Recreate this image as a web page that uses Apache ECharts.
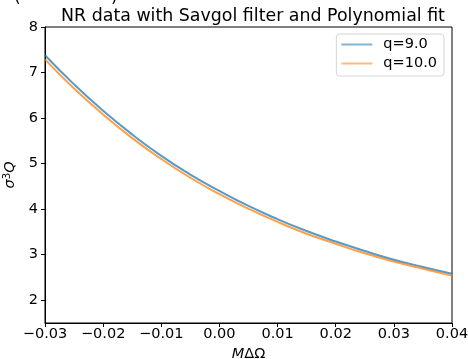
<!DOCTYPE html>
<html>
<head>
<meta charset="utf-8">
<script src="https://cdn.jsdelivr.net/npm/echarts@6/dist/echarts.min.js"></script>
<style>
  html, body { margin: 0; padding: 0; background: #fff; }
  #chart { width: 468px; height: 359px; }
</style>
</head>
<body>
<div id="chart"></div>
<script>
// Frequency offset M·ΔΩ sampled along the fitted curves
const xValues = [-0.030, -0.025, -0.020, -0.015, -0.010, -0.005, 0.000,
                 0.005, 0.010, 0.015, 0.020, 0.025, 0.030, 0.035, 0.040];
// σ³Q after Savgol smoothing + polynomial fit, mass ratio q = 9.0
const q9Values = [7.38, 6.74, 6.16, 5.64, 5.17, 4.76, 4.40,
                  4.07, 3.78, 3.52, 3.29, 3.08, 2.89, 2.73, 2.58];
// same for q = 10.0
const q10Values = [7.29, 6.65, 6.08, 5.56, 5.10, 4.69, 4.33,
                   4.01, 3.72, 3.46, 3.24, 3.03, 2.85, 2.69, 2.54];
const seriesNames = ['q=9.0', 'q=10.0'];
const yTicks = [2, 3, 4, 5, 6, 7, 8];

const FONT = 'DejaVu Sans';
const FS = 14.5;
const pair = (xs, ys) => xs.map((x, i) => [x, ys[i]]);
const fmtX = v => {
  const s = Math.abs(v).toFixed(2);
  return (v < -1e-9 ? '\u2212' : '') + s;
};

const chart = echarts.init(document.getElementById('chart'), null, { renderer: 'canvas' });
chart.setOption({
  animation: false,
  backgroundColor: '#fff',
  textStyle: { fontFamily: FONT },
  title: {
    text: 'NR data with Savgol filter and Polynomial fit',
    left: 248, top: 3, textAlign: 'center',
    textStyle: { fontFamily: FONT, fontSize: 17.4, fontWeight: 'normal', color: '#000' }
  },
  // lower edge of the bracketed heading above the panel
  graphic: [
    { type: 'text', left: 14, top: -11, style: { text: '(', font: '17px "DejaVu Sans"', fill: '#000' } },
    { type: 'text', left: 111, top: -11, style: { text: ')', font: '17px "DejaVu Sans"', fill: '#000' } }
  ],
  grid: {
    left: 45, right: 16, top: 27, bottom: 36,
    outerBoundsMode: 'none',
    containLabel: false,
    show: true, borderColor: '#000', borderWidth: 1, backgroundColor: 'transparent'
  },
  legend: {
    data: seriesNames,
    orient: 'vertical',
    right: 24, top: 34,
    icon: 'rect',
    itemWidth: 31, itemHeight: 2,
    itemGap: 4,
    padding: [3, 7, 5, 5],
    backgroundColor: 'rgba(255,255,255,0.8)',
    borderColor: '#d5d5d5', borderWidth: 1, borderRadius: 3,
    itemStyle: { opacity: 0.55 },
    textStyle: { fontFamily: FONT, fontSize: FS, color: '#000', padding: [0, 0, 0, 6] }
  },
  xAxis: {
    type: 'value',
    min: -0.03, max: 0.04, interval: 0.01,
    name: '{i|M}{n|\u0394\u03A9}',
    nameLocation: 'middle', nameGap: 24,
    nameTextStyle: {
      rich: {
        i: { fontFamily: FONT, fontSize: FS, fontStyle: 'italic', color: '#000' },
        n: { fontFamily: FONT, fontSize: FS, color: '#000' }
      }
    },
    axisLine: { show: true, onZero: false, lineStyle: { color: '#000', width: 1 } },
    axisTick: { show: true, inside: false, length: 4, lineStyle: { color: '#000' } },
    axisLabel: { formatter: fmtX, fontFamily: FONT, fontSize: FS, color: '#000', margin: 4 },
    splitLine: { show: false }
  },
  yAxis: {
    type: 'value',
    min: 1.5, max: 8,
    name: '{i|\u03C3}{s|3}{i|Q}',
    nameLocation: 'middle', nameGap: 26, nameRotate: 90,
    nameTextStyle: {
      rich: {
        i: { fontFamily: FONT, fontSize: FS, fontStyle: 'italic', color: '#000' },
        s: { fontFamily: FONT, fontSize: 10.2, color: '#000', verticalAlign: 'top', padding: [0, 0, 6, 0] }
      }
    },
    axisLine: { show: true, onZero: false, lineStyle: { color: '#000', width: 1 } },
    axisTick: { show: true, inside: false, length: 4, customValues: yTicks, lineStyle: { color: '#000' } },
    axisLabel: { customValues: yTicks, fontFamily: FONT, fontSize: FS, color: '#000', margin: 7 },
    splitLine: { show: false }
  },
  series: [
    {
      name: seriesNames[0], type: 'line', smooth: true, showSymbol: false,
      data: pair(xValues, q9Values),
      color: '#1f77b4',
      lineStyle: { width: 2, color: '#1f77b4', opacity: 0.75 }
    },
    {
      name: seriesNames[1], type: 'line', smooth: true, showSymbol: false,
      data: pair(xValues, q10Values),
      color: '#ff7f0e',
      lineStyle: { width: 2, color: '#ff7f0e', opacity: 0.75 }
    }
  ]
});
</script>
</body>
</html>
